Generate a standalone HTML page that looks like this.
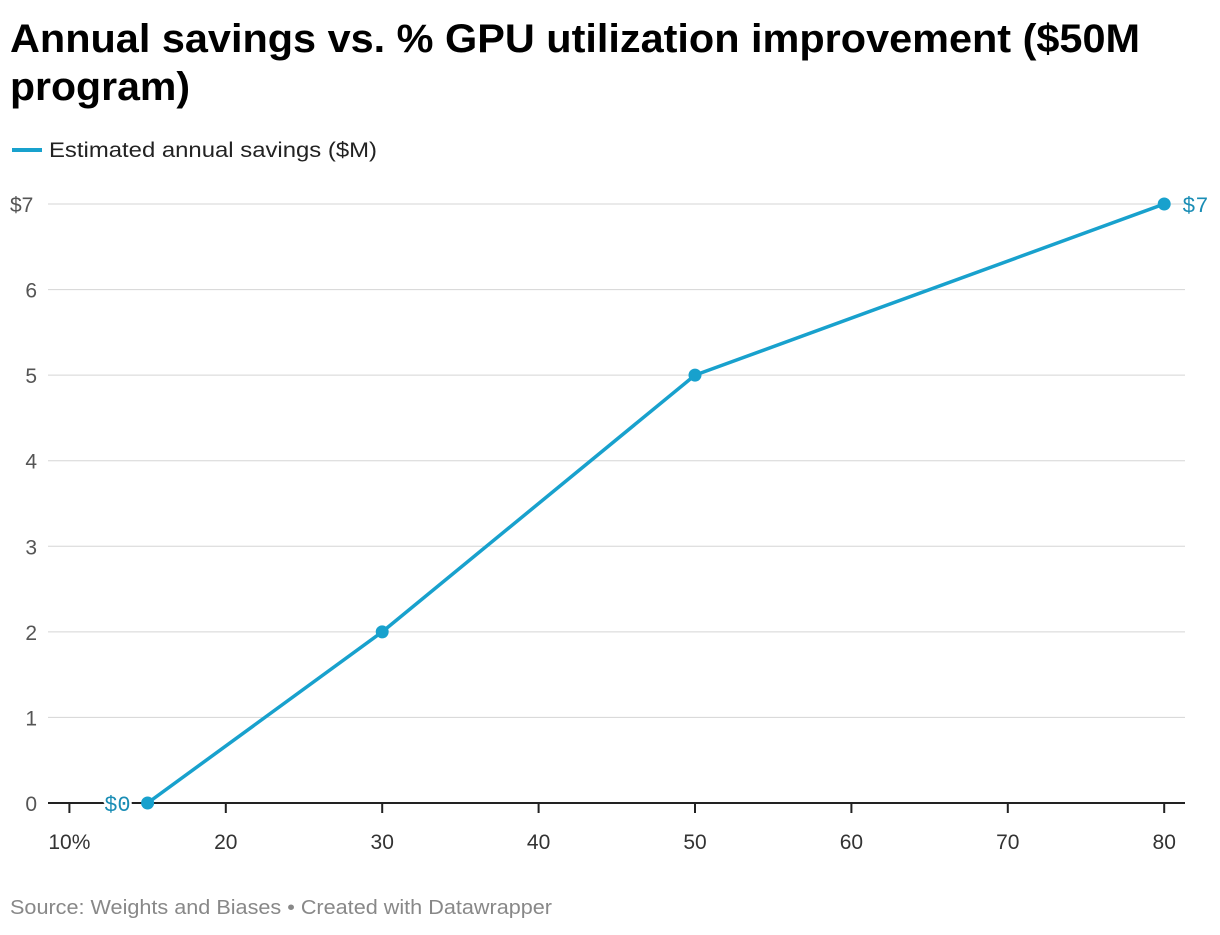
<!DOCTYPE html>
<html><head><meta charset="utf-8"><style>
body{margin:0;background:#fff;width:1220px;height:930px;overflow:hidden;font-family:"Liberation Sans",sans-serif}
</style></head><body>
<svg width="1220" height="930">
<text x="10" y="52" font-size="40" font-weight="bold" fill="#000" textLength="1130" lengthAdjust="spacingAndGlyphs">Annual savings vs. % GPU utilization improvement ($50M</text>
<text x="10" y="100" font-size="40" font-weight="bold" fill="#000" textLength="180" lengthAdjust="spacingAndGlyphs">program)</text>
<g>
<line x1="12" y1="150" x2="42" y2="150" stroke="#18a1cd" stroke-width="4"/>
<text x="49" y="157" font-size="21" fill="#222" textLength="328" lengthAdjust="spacingAndGlyphs">Estimated annual savings ($M)</text>
</g>
<g id="grid"></g><g id="xax"></g><g id="series"></g>
<text x="10" y="914" font-size="20" fill="#888" textLength="542" lengthAdjust="spacingAndGlyphs">Source: Weights and Biases • Created with Datawrapper</text>
</svg>
<script>
const xVals=[15,30,50,80];
const yVals=[0,2,5,7];
const yTicks=[0,1,2,3,4,5,6,7];
const xTicks=[10,20,30,40,50,60,70,80];
const NS='http://www.w3.org/2000/svg';
const X=v=>69.4+(v-10)*15.64;
const Y=v=>803-v*85.57;
function mk(t,a,p){const e=document.createElementNS(NS,t);for(const k in a)e.setAttribute(k,a[k]);p.appendChild(e);return e;}
const g=document.getElementById('grid');
yTicks.forEach(t=>{
 if(t>0){const l=mk('line',{x1:48,x2:1185,y1:Y(t),y2:Y(t),stroke:'#d5d5d5','stroke-width':1},g);
 
 }
 const tx=mk('text',{x:t==7?10:37,y:Y(t)+8,'font-size':21,fill:'#555','text-anchor':t==7?'start':'end'},g);
 tx.textContent=t==7?'$7':t;
 
 
});
const xa=document.getElementById('xax');
const base=mk('line',{x1:48,x2:1185,y1:803,y2:803,stroke:'#222','stroke-width':2},xa);


xTicks.forEach((t,i)=>{
 const tk=mk('line',{x1:X(t),x2:X(t),y1:803,y2:813,stroke:'#222','stroke-width':2},xa);
 
 
 const tx=mk('text',{x:X(t),y:849,'font-size':21,fill:'#333','text-anchor':'middle'},xa);
 tx.textContent=i==0?t+'%':t;
 
 
});
const s=document.getElementById('series');
const pl=mk('polyline',{points:xVals.map((x,i)=>X(x)+','+Y(yVals[i])).join(' '),fill:'none',stroke:'#18a1cd','stroke-width':3.5,'stroke-linejoin':'round'},s);


xVals.forEach((x,i)=>{
 const c=mk('circle',{cx:X(x),cy:Y(yVals[i]),r:6.5,fill:'#18a1cd'},s);
 
 
});
const n=xVals.length-1;
const l1=mk('text',{x:X(xVals[0])-17,y:Y(yVals[0])+8,'font-size':22,fill:'#1a8db5','text-anchor':'end',stroke:'#fff','stroke-width':5,'paint-order':'stroke','font-family':'Liberation Mono, monospace'},s);
l1.textContent='$'+yVals[0];


const l2=mk('text',{x:X(xVals[n])+18,y:Y(yVals[n])+8,'font-size':22,fill:'#1a8db5','font-family':'Liberation Mono, monospace'},s);
l2.textContent='$'+yVals[n];


</script>
</body></html>
